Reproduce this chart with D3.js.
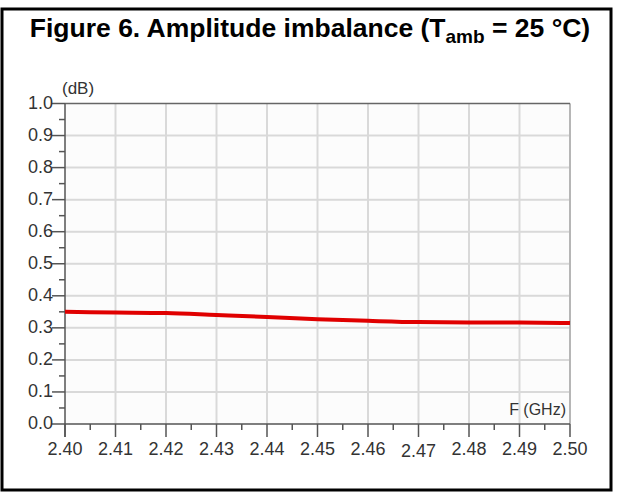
<!DOCTYPE html>
<html><head><meta charset="utf-8">
<script src="https://cdn.jsdelivr.net/npm/d3@7"></script>
<style>body{margin:0;background:#fff}svg{display:block}</style>
</head><body>
<script>
const freqs = [2.40, 2.41, 2.42, 2.43, 2.44, 2.45, 2.46, 2.47, 2.48, 2.49, 2.50];
const imbalance = [0.350, 0.348, 0.346, 0.340, 0.334, 0.327, 0.322, 0.318, 0.317, 0.317, 0.315];
const xTicks = [2.40, 2.41, 2.42, 2.43, 2.44, 2.45, 2.46, 2.47, 2.48, 2.49, 2.50];
const yTicks = [0.0, 0.1, 0.2, 0.3, 0.4, 0.5, 0.6, 0.7, 0.8, 0.9, 1.0];

const W = 617, H = 492;
const svg = d3.select("body").append("svg").attr("width", W).attr("height", H);

// frame
svg.append("rect").attr("x", 2).attr("y", 9).attr("width", 609).attr("height", 481)
  .attr("fill", "none").attr("stroke", "#000").attr("stroke-width", 3);

// title
const title = svg.append("text").attr("x", 310).attr("y", 37).attr("text-anchor", "middle")
  .attr("font-family", "Liberation Sans, Arial, sans-serif").attr("font-weight", "bold")
  .attr("font-size", 26.5).attr("fill", "#000");
title.append("tspan").text("Figure 6. Amplitude imbalance (T");
title.append("tspan").attr("font-size", 19).attr("dy", 6).text("amb");
title.append("tspan").attr("dy", -6).text(" = 25 °C)");

const L = 65, R = 570, T = 103.5, B = 424;
const x = d3.scaleLinear().domain([2.40, 2.50]).range([L, R]);
const y = d3.scaleLinear().domain([0, 1]).range([B, T]);

svg.append("rect").attr("x", L).attr("y", T).attr("width", R - L).attr("height", B - T).attr("fill", "#fcfcfc");

// grid
const g = svg.append("g");
g.selectAll("line.v").data(xTicks.slice(1)).enter().append("line")
  .attr("x1", d => x(d)).attr("x2", d => x(d)).attr("y1", T).attr("y2", B)
  .attr("stroke", "#d9d9d9").attr("stroke-width", 2);
g.selectAll("line.h").data(yTicks.slice(1, -1)).enter().append("line")
  .attr("x1", L).attr("x2", R).attr("y1", d => y(d)).attr("y2", d => y(d))
  .attr("stroke", "#d9d9d9").attr("stroke-width", 2);
svg.append("line").attr("x1", R).attr("x2", R).attr("y1", T).attr("y2", B)
  .attr("stroke", "#aaa").attr("stroke-width", 1.5);
svg.append("line").attr("x1", L).attr("x2", R).attr("y1", T).attr("y2", T)
  .attr("stroke", "#666").attr("stroke-width", 1.5);

// axes
const font = "Liberation Sans, Arial, sans-serif";
const yMinor = d3.range(0.05, 1, 0.1);
const ax = svg.append("g").attr("stroke", "#555").attr("stroke-width", 1.5);
ax.append("line").attr("x1", L).attr("x2", L).attr("y1", T).attr("y2", B + 13);
ax.append("line").attr("x1", L).attr("x2", R).attr("y1", B).attr("y2", B);
ax.selectAll("line.ym").data(yTicks).enter().append("line")
  .attr("x1", L - 13).attr("x2", L).attr("y1", d => y(d)).attr("y2", d => y(d));
ax.selectAll("line.yn").data(yMinor).enter().append("line")
  .attr("x1", L - 6).attr("x2", L).attr("y1", d => y(d)).attr("y2", d => y(d));
ax.selectAll("line.xm").data(xTicks).enter().append("line")
  .attr("x1", d => x(d)).attr("x2", d => x(d)).attr("y1", B).attr("y2", B + 13);
const xMinor = d3.range(0, 10).map(i => 2.405 + i * 0.01);
ax.selectAll("line.xn").data(xMinor).enter().append("line")
  .attr("x1", d => x(d)).attr("x2", d => x(d)).attr("y1", B).attr("y2", B + 6);

svg.selectAll("text.yl").data(yTicks).enter().append("text")
  .attr("x", L - 12).attr("y", d => y(d) + 5).attr("text-anchor", "end")
  .attr("font-family", font).attr("font-size", 18).attr("fill", "#333")
  .text(d => d.toFixed(1));
svg.selectAll("text.xl").data(xTicks).enter().append("text")
  .attr("x", d => x(d)).attr("y", (d, i) => i === 7 ? 457 : 455).attr("text-anchor", "middle")
  .attr("font-family", font).attr("font-size", 18).attr("fill", "#333")
  .text(d => d.toFixed(2));

svg.append("text").attr("x", 62).attr("y", 94).attr("font-family", font)
  .attr("font-size", 17).attr("fill", "#333").text("(dB)");
svg.append("text").attr("x", 566).attr("y", 415).attr("text-anchor", "end").attr("font-family", font)
  .attr("font-size", 16).attr("fill", "#333").text("F (GHz)");

// curve
const line = d3.line().x((d, i) => x(freqs[i])).y(d => y(d)).curve(d3.curveMonotoneX);
svg.append("path").datum(imbalance).attr("d", line).attr("fill", "none")
  .attr("stroke", "#e00000").attr("stroke-width", 4);
</script>
</body></html>
